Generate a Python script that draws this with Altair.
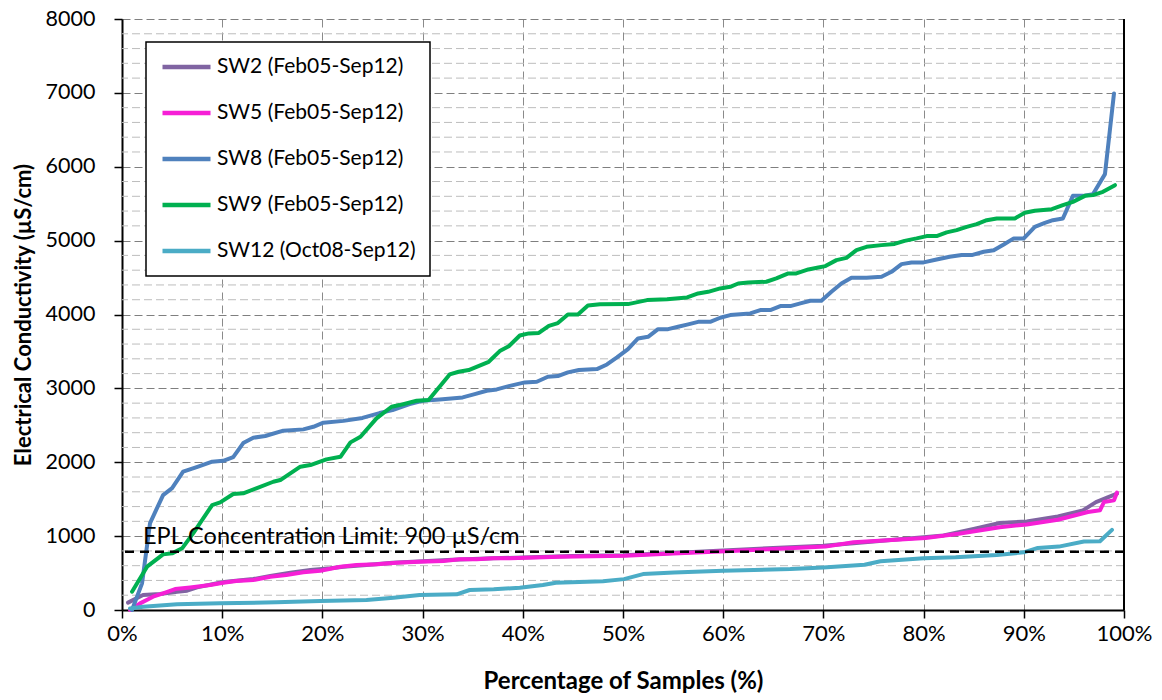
import altair as alt
import pandas as pd

SERIES = ["SW2 (Feb05-Sep12)", "SW5 (Feb05-Sep12)", "SW8 (Feb05-Sep12)",
          "SW9 (Feb05-Sep12)", "SW12 (Oct08-Sep12)"]
COLORS = ["#8064A2", "#F61FD6", "#4F81BD", "#00B050", "#4BACC6"]

sw2_x = [0.6, 2.1, 3.8, 5.5, 6.5, 7.5, 9.5, 10.4, 13.1, 14.8, 16.8, 18.8, 20.8, 22.1, 24.4,
         27, 30, 33, 37, 40, 45, 50, 55, 60, 65, 70, 73, 77, 80, 82, 85.1, 87.6, 90.3,
         93.4, 95.9, 97.2, 99.3]
sw2_y = [100, 203, 216, 248, 261, 306, 361, 383, 419, 460, 505, 541, 564, 586, 609,
         640, 660, 680, 700, 710, 730, 740, 770, 805, 840, 870, 905, 950, 985, 1010, 1099, 1177, 1199,
         1267, 1349, 1461, 1575]

sw5_x = [0.8, 1.8, 3.1, 4.1, 5.3, 6.8, 8.8, 10.1, 11.4, 13.1, 14.8, 16.4, 18.1, 19.8, 21.8,
         23.4, 25.4, 27.4, 29.7, 32.1, 33.7, 35.4, 37.1, 38.7, 40.4, 43.7, 50.2, 55, 60.2, 65,
         70.2, 73, 76, 80.2, 83.5, 87.6, 90.3, 93.4, 96.4, 97.6, 98, 99, 99.3]
sw5_y = [0, 90, 180, 225, 284, 306, 338, 370, 392, 406, 451, 474, 510, 532, 586,
         609, 618, 640, 654, 663, 686, 686, 700, 700, 708, 721, 736, 765, 794, 825,
         858, 917, 940, 976, 1031, 1121, 1158, 1222, 1326, 1349, 1461, 1484, 1590]

sw8_x = [1, 2, 2.8, 4.1, 5, 6.1, 7.6, 9, 10.1, 11.1, 12.1, 13.1, 14.3, 16.1, 18.1, 19.1,
         20.1, 22.1, 24, 25.7, 27, 28.7, 30, 31.7, 34, 35.2, 36.4, 37.4, 38.6, 40.2, 41.4,
         42.5, 43.5, 44.5, 45.6, 47.4, 48.4, 49.4, 50.5, 51.5, 52.5, 53.5, 54.5, 55.5, 56.5,
         57.5, 58.7, 59.7, 60.7, 62.7, 63.7, 64.7, 65.7, 66.7, 67.7, 68.7, 69.8, 70.8, 71.8,
         72.8, 74.3, 75.8, 76.8, 77.8, 78.8, 80, 81.3, 82.6, 83.8, 84.8, 86, 87, 88, 89, 90,
         91.1, 92.1, 92.9, 93.9, 94.9, 95.9, 96.9, 98.1, 99]
sw8_y = [0, 361, 1177, 1556, 1650, 1872, 1940, 2007, 2020, 2070, 2260, 2332, 2355, 2427, 2445, 2480,
         2535, 2560, 2600, 2666, 2706, 2788, 2832, 2851, 2878, 2923, 2968, 2986, 3031, 3081, 3090,
         3157, 3166, 3216, 3248, 3261, 3324, 3419, 3532, 3676, 3698, 3802, 3802, 3834, 3866,
         3901, 3901, 3956, 3992, 4015, 4060, 4060, 4114, 4114, 4150, 4186, 4186, 4307, 4420,
         4497, 4497, 4510, 4578, 4682, 4705, 4705, 4745, 4781, 4804, 4804, 4849, 4871, 4948, 5030, 5030,
         5187, 5241, 5277, 5300, 5606, 5606, 5629, 5900, 6992]

sw9_x = [1, 2.5, 4.1, 5, 6, 7.1, 9, 9.8, 11.1, 12.1, 13.4, 15.1, 15.8, 17.8, 18.8, 20.4, 21.8,
         22.8, 23.8, 25.4, 26.9, 27.7, 29.4, 30.6, 32.7, 33.6, 34.6, 36.6, 37.7, 38.6, 39.7, 40.6,
         41.6, 42.6, 43.5, 44.5, 45.5, 46.5, 47.7, 50.5, 52.4, 54.4, 56.4, 57.5, 58.5, 59.7, 60.7,
         61.5, 62.5, 64.3, 65.3, 66.5, 67.3, 68.5, 69.5, 70.2, 71.3, 72.3, 73.3, 74.3, 75.8, 77.1,
         78.1, 79.3, 80.3, 81.3, 82.3, 83.3, 84.3, 85.3, 86.3, 87.3, 89.1, 90.1, 91.1, 92.8, 93.9,
         94.9, 96.1, 96.9, 97.9, 99.1]
sw9_y = [248, 586, 753, 767, 835, 1037, 1421, 1457, 1570, 1579, 1647, 1736, 1759, 1940, 1962, 2039, 2074,
         2269, 2345, 2594, 2751, 2774, 2832, 2842, 3189, 3225, 3248, 3360, 3505, 3570, 3715, 3744,
         3750, 3847, 3884, 4001, 4001, 4122, 4138, 4141, 4195, 4208, 4231, 4285, 4307, 4353, 4375,
         4420, 4434, 4443, 4488, 4556, 4556, 4610, 4637, 4655, 4736, 4767, 4871, 4916, 4939, 4955,
         4997, 5030, 5061, 5061, 5111, 5142, 5187, 5223, 5277, 5300, 5300, 5377, 5404, 5426, 5480,
         5525, 5606, 5616, 5660, 5751]

sw12_x = [0.8, 2.1, 5.5, 9.8, 15.4, 19.8, 24.4, 27.1, 29.7, 33.4, 34.7, 37.1, 39.7, 42, 43.3,
          48, 50.1, 52, 55.1, 60, 66.7, 70, 74.1, 75.7, 80, 83.2, 87.3, 90, 91.4, 93.5, 96, 97.6, 98.8]
sw12_y = [20, 44, 77, 90, 104, 122, 135, 167, 203, 212, 271, 280, 302, 338, 370,
          390, 418, 486, 509, 532, 554, 576, 613, 659, 700, 713, 744, 781, 840, 858, 927, 931, 1085]

MINOR_GRID = [v for v in range(200, 8000, 200) if v % 1000 != 0]
RIGHT_EDGE = [100]
EPL_LEVEL = [790]
EPL_LABEL = ["EPL Concentration Limit: 900 µS/cm"]
EPL_LABEL_X = [2.1]
EPL_LABEL_Y = [900]

rows = []
for name, xs, ys in zip(SERIES, [sw2_x, sw5_x, sw8_x, sw9_x, sw12_x],
                        [sw2_y, sw5_y, sw8_y, sw9_y, sw12_y]):
    for i, (a, b) in enumerate(zip(xs, ys)):
        rows.append({"series": name, "pct": a, "ec": b, "i": i})
df = pd.DataFrame(rows)

FONT = "Lato"
xscale = alt.Scale(domain=[0, 100], nice=False, zero=False)
yscale = alt.Scale(domain=[0, 8000], nice=False)

xaxis = alt.Axis(values=list(range(0, 101, 10)), labelExpr="datum.value + '%'",
                 grid=True, gridColor="#8a8a8a", gridDash=[8, 5], gridWidth=1,
                 tickSize=8, tickColor="black", tickWidth=1.5,
                 domainColor="black", domainWidth=2, labelFlush=False,
                 labelFontSize=22, labelFont=FONT, labelColor="black", labelPadding=5,
                 titleFontSize=24, titleFont=FONT, titleFontWeight="bold", titleColor="black",
                 titlePadding=25)
yaxis = alt.Axis(values=list(range(0, 8001, 1000)), format="d",
                 grid=True, gridColor="#7f7f7f", gridDash=[8, 4], gridWidth=1,
                 tickSize=8, tickColor="black", tickWidth=1.5,
                 domainColor="black", domainWidth=2, labelFlush=False,
                 labelFontSize=21.5, labelFont=FONT, labelColor="black", labelPadding=19,
                 titleFontSize=22, titleFont=FONT, titleFontWeight="bold", titleColor="black",
                 titlePadding=10)

XT = "Percentage of Samples (%)"
YT = "Electrical Conductivity (µS/cm)"

grid = alt.Chart(pd.DataFrame({"v": MINOR_GRID})).mark_rule(
    color="#bdbdbd", strokeDash=[8, 4], strokeWidth=1
).encode(y=alt.Y("v:Q", scale=yscale, axis=yaxis, title=YT))

right = alt.Chart(pd.DataFrame({"v": RIGHT_EDGE})).mark_rule(
    color="black", strokeWidth=2
).encode(x=alt.X("v:Q", scale=xscale, axis=xaxis, title=XT))

lines = alt.Chart(df).mark_line(strokeWidth=4, strokeJoin="round", strokeCap="round").encode(
    x=alt.X("pct:Q", scale=xscale, axis=xaxis, title=XT),
    y=alt.Y("ec:Q", scale=yscale, axis=yaxis, title=YT),
    color=alt.Color("series:N", sort=SERIES,
                    scale=alt.Scale(domain=SERIES, range=COLORS),
                    legend=alt.Legend(title=None)),
    order="i:Q",
)

epl = alt.Chart(pd.DataFrame({"v": EPL_LEVEL})).mark_rule(
    color="black", strokeDash=[9, 6], strokeWidth=2.5
).encode(y=alt.Y("v:Q", scale=yscale, axis=yaxis, title=YT))

label = alt.Chart(pd.DataFrame({"t": EPL_LABEL, "x": EPL_LABEL_X, "y": EPL_LABEL_Y})).mark_text(
    align="left", baseline="alphabetic", fontSize=23.5, font=FONT, color="black"
).encode(
    x=alt.X("x:Q", scale=xscale, axis=xaxis, title=XT),
    y=alt.Y("y:Q", scale=yscale, axis=yaxis, title=YT),
    text="t:N",
)

chart = alt.layer(grid, right, lines, epl, label).properties(
    width=1002, height=591,
    autosize=alt.AutoSizeParams(type="none"),
    padding={"left": 122, "top": 19, "right": 38, "bottom": 90},
    background="white",
).configure_view(
    strokeWidth=0
).configure_legend(
    orient="none", legendX=24, legendY=23,
    strokeColor="black", fillColor="white", strokeWidth=1.5,
    padding=14, symbolType="stroke", symbolStrokeWidth=4.5, symbolSize=2304,
    labelFontSize=21, labelFont=FONT, labelColor="black", labelOffset=4,
    rowPadding=24, clipHeight=22, labelLimit=400, cornerRadius=0,
)

chart.save("out.html", embed_options={"renderer": "svg", "actions": False})
